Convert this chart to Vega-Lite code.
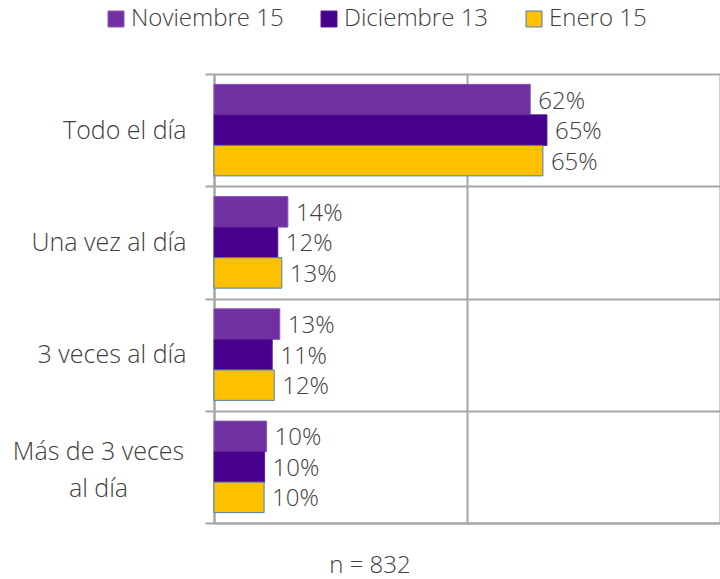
{
  "$schema": "https://vega.github.io/schema/vega-lite/v6.json",
  "width": 506,
  "height": 449,
  "autosize": {"type": "none"},
  "padding": {"left": 214, "top": 74, "right": 0, "bottom": 56},
  "background": "white",
  "config": {
    "view": {"stroke": null},
    "font": "Open Sans",
    "legend": {
      "direction": "horizontal",
      "symbolType": "square",
      "symbolSize": 256,
      "symbolStrokeWidth": 1,
      "labelFontSize": 24,
      "labelFontWeight": 300,
      "labelColor": "#404040",
      "labelFont": "Open Sans",
      "columnPadding": 33,
      "labelOffset": 3,
      "title": null
    }
  },
  "title": {
    "text": "n = 832",
    "orient": "bottom",
    "anchor": "middle",
    "dx": -97,
    "offset": 30,
    "fontSize": 24,
    "fontWeight": 300,
    "color": "#404040",
    "font": "Open Sans"
  },
  "data": {
    "values": [
      {"cat": "Todo el día", "serie": "Noviembre 15", "v": 0.625, "label": "62%"},
      {"cat": "Todo el día", "serie": "Diciembre 13", "v": 0.658, "label": "65%"},
      {"cat": "Todo el día", "serie": "Enero 15", "v": 0.65, "label": "65%"},
      {"cat": "Una vez al día", "serie": "Noviembre 15", "v": 0.146, "label": "14%"},
      {"cat": "Una vez al día", "serie": "Diciembre 13", "v": 0.126, "label": "12%"},
      {"cat": "Una vez al día", "serie": "Enero 15", "v": 0.134, "label": "13%"},
      {"cat": "3 veces al día", "serie": "Noviembre 15", "v": 0.13, "label": "13%"},
      {"cat": "3 veces al día", "serie": "Diciembre 13", "v": 0.115, "label": "11%"},
      {"cat": "3 veces al día", "serie": "Enero 15", "v": 0.119, "label": "12%"},
      {"cat": "Más de 3 veces al día", "serie": "Noviembre 15", "v": 0.104, "label": "10%"},
      {"cat": "Más de 3 veces al día", "serie": "Diciembre 13", "v": 0.1, "label": "10%"},
      {"cat": "Más de 3 veces al día", "serie": "Enero 15", "v": 0.099, "label": "10%"}
    ]
  },
  "encoding": {
    "y": {
      "field": "cat",
      "type": "nominal",
      "sort": ["Todo el día", "Una vez al día", "3 veces al día", "Más de 3 veces al día"],
      "scale": {"paddingInner": 0, "paddingOuter": 0},
      "axis": {
        "title": null,
        "tickBand": "extent",
        "ticks": true,
        "tickSize": 9,
        "tickColor": "#a6a6a6",
        "tickWidth": 2,
        "grid": true,
        "gridColor": "#a6a6a6",
        "gridWidth": 2,
        "domain": true,
        "domainColor": "#a6a6a6",
        "domainWidth": 2,
        "labelFontSize": 25,
        "labelFontWeight": 300,
        "labelFont": "Open Sans",
        "labelColor": "#404040",
        "labelPadding": {"condition": {"test": "datum.value == 'Más de 3 veces al día'", "value": 107}, "value": 19},
        "labelAlign": {"condition": {"test": "datum.value == 'Más de 3 veces al día'", "value": "center"}, "value": "right"},
        "labelLineHeight": 37,
        "labelLimit": 300,
        "labelOffset": {"condition": {"test": "datum.value == 'Más de 3 veces al día'", "value": -15}, "value": 0},
        "labelExpr": "datum.value == 'Más de 3 veces al día' ? ['Más de 3 veces', 'al día'] : datum.value"
      }
    },
    "yOffset": {
      "field": "serie",
      "type": "nominal",
      "sort": ["Noviembre 15", "Diciembre 13", "Enero 15"],
      "scale": {"paddingInner": 0, "paddingOuter": 0.34}
    },
    "x": {
      "field": "v",
      "type": "quantitative",
      "scale": {"domain": [0, 1]},
      "axis": {
        "title": null,
        "orient": "bottom",
        "values": [0, 0.5, 1],
        "labels": false,
        "ticks": false,
        "grid": true,
        "gridColor": "#a6a6a6",
        "gridWidth": 2,
        "domain": true,
        "domainColor": "#a6a6a6",
        "domainWidth": 2
      }
    }
  },
  "layer": [
    {
      "mark": {"type": "bar", "strokeWidth": 1},
      "encoding": {
        "fill": {
          "field": "serie",
          "type": "nominal",
          "sort": ["Noviembre 15", "Diciembre 13", "Enero 15"],
          "scale": {"domain": ["Noviembre 15", "Diciembre 13", "Enero 15"], "range": ["#7030A0", "#46008C", "#FFC000"]},
          "legend": {"orient": "none", "legendX": -110, "legendY": -67}
        },
        "stroke": {
          "field": "serie",
          "type": "nominal",
          "sort": ["Noviembre 15", "Diciembre 13", "Enero 15"],
          "scale": {"domain": ["Noviembre 15", "Diciembre 13", "Enero 15"], "range": ["#8A55B5", "#5A1A9A", "#4A7EBB"]},
          "legend": {"orient": "none", "legendX": -110, "legendY": -67}
        }
      }
    },
    {
      "mark": {"type": "text", "align": "left", "baseline": "middle", "dx": 8, "dy": 2, "fontSize": 24, "fontWeight": 300, "font": "Open Sans", "color": "#404040"},
      "encoding": {"text": {"field": "label"}}
    }
  ]
}
